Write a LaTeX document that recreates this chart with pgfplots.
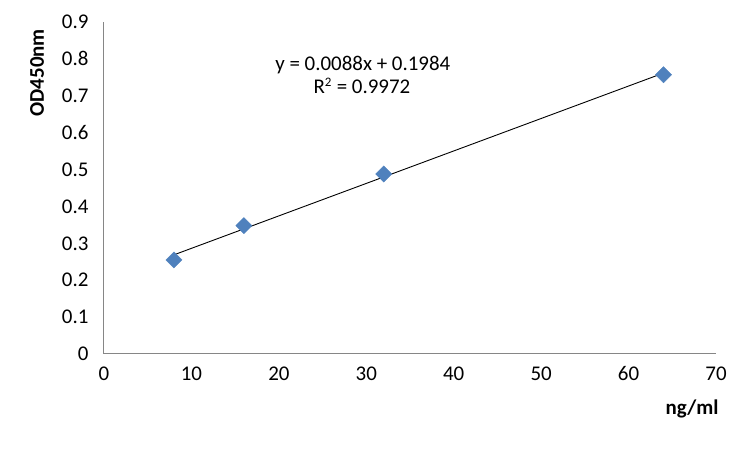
\documentclass[border=0pt]{standalone}
\usepackage{pgfplots}
\pgfplotsset{compat=1.18}
\usepackage{fontspec}
\setmainfont{Carlito}
\definecolor{excelblue}{HTML}{4F81BD}
\definecolor{axisgray}{HTML}{868686}

\begin{document}
\begin{tikzpicture}[x=1bp,y=1bp]
\path[use as bounding box] (-104,-97) rectangle (648,354);
\begin{axis}[
    at={(0,0)}, anchor=south west,
    scale only axis,
    width=612bp, height=332bp,
    xmin=0, xmax=70,
    ymin=0, ymax=0.9,
    xtick={0,10,...,70},
    ytick={0,0.1,...,0.9},
    yticklabel style={/pgf/number format/fixed, /pgf/number format/precision=1},
    /pgf/number format/assume math mode=true,
    axis lines*=left,
    axis line style={axisgray, line width=1bp, -},
    tick style={draw=none},
    ticklabel style={font=\fontsize{21}{24}\selectfont},
    xticklabel style={yshift=-9bp},
    yticklabel style={xshift=-12bp},
    xlabel={\textbf{ng/ml}},
    ylabel={\textbf{OD450nm}},
    label style={font=\fontsize{21}{24}\selectfont},
    xlabel style={at={(rel axis cs:0.961,0)}, anchor=center, yshift=-55bp},
    ylabel style={at={(rel axis cs:0,0.847)}, anchor=center, rotate=0, yshift=67bp},
    clip=false,
]
    \addplot[only marks, mark=square*, mark size=5.7bp,
             mark options={rotate=45, fill=excelblue, draw=excelblue}]
        coordinates {(8,0.255) (16,0.348) (32,0.488) (64,0.757)};
    \addplot[black, line width=0.9bp, no marks]
        coordinates {(8,0.2688) (64,0.7616)};
    \node[font=\fontsize{21}{20}\selectfont, anchor=center]
        at (axis cs:29.6,0.782) {y = 0.0088x + 0.1984};
    \node[font=\fontsize{21}{20}\selectfont, anchor=center]
        at (axis cs:29.5,0.727) {R\textsuperscript{\fontsize{13}{13}\selectfont 2} = 0.9972};
\end{axis}
\end{tikzpicture}
\end{document}
